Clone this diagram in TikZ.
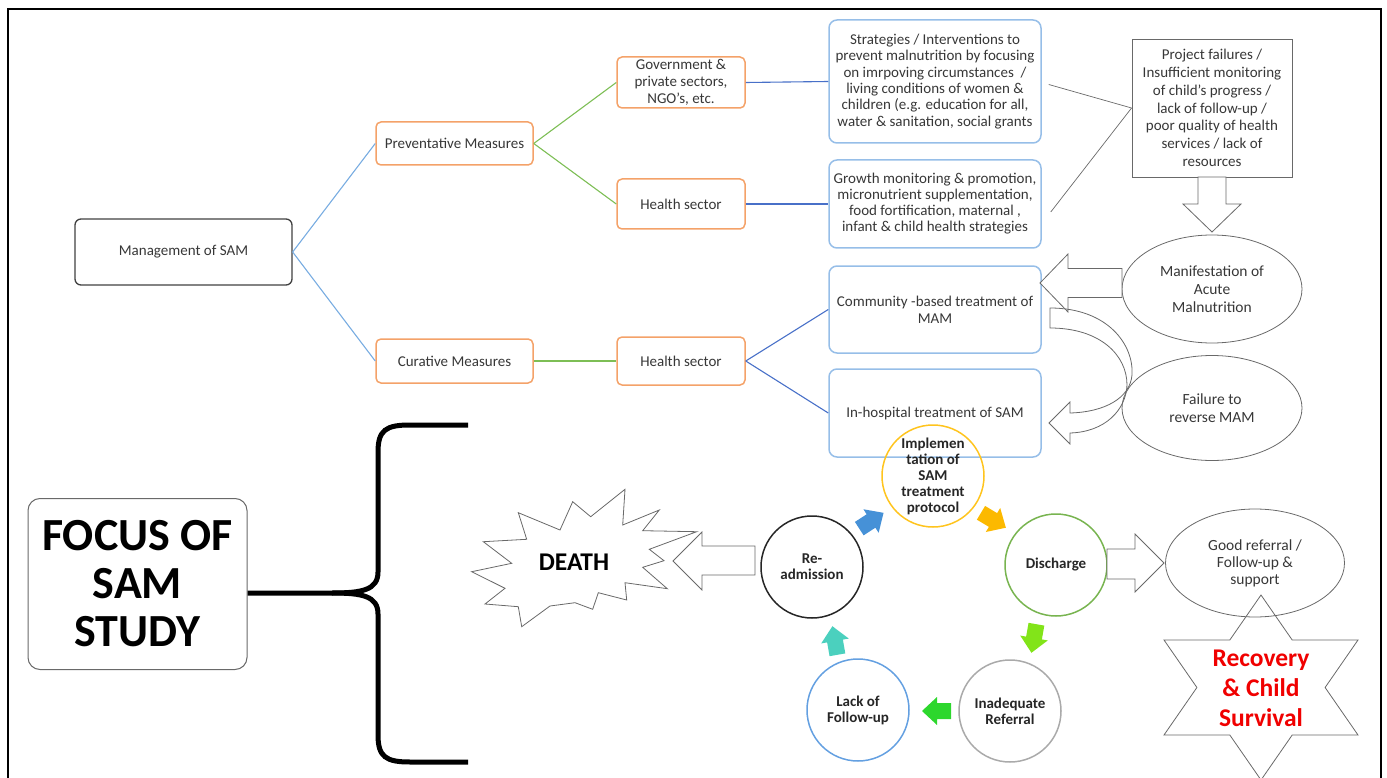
\documentclass[tikz,border=0pt]{standalone}
\usepackage{fontspec}
\setmainfont{Carlito}
\usetikzlibrary{calc,shapes.geometric}

\definecolor{boxorange}{RGB}{244,162,105}
\definecolor{boxblue}{RGB}{150,190,232}
\definecolor{linkblue}{RGB}{120,172,225}
\definecolor{linkdblue}{RGB}{72,112,200}
\definecolor{linkgreen}{RGB}{125,190,85}
\definecolor{txtgrey}{RGB}{55,55,55}
\definecolor{outl}{RGB}{105,105,105}
\definecolor{cyellow}{RGB}{255,196,30}
\definecolor{cgreen}{RGB}{120,180,80}
\definecolor{cgrey}{RGB}{170,170,170}
\definecolor{cblue}{RGB}{100,160,225}
\definecolor{arblue}{RGB}{70,145,215}
\definecolor{aryellow}{RGB}{252,185,0}
\definecolor{arlime}{RGB}{130,228,25}
\definecolor{argreen}{RGB}{45,215,45}
\definecolor{arteal}{RGB}{75,208,190}
\definecolor{recred}{RGB}{240,0,0}

\begin{document}
\begin{tikzpicture}[x=1pt,y=-1pt,
  font=\fontsize{15}{16.3}\selectfont, text=txtgrey,
  mgmtbox/.style={draw=black!75, line width=1.3pt, rounded corners=6pt,
    minimum width=217pt, minimum height=66pt, align=center},
  obox/.style={draw=boxorange, line width=1.5pt, rounded corners=5pt,
    minimum width=128pt, align=center, inner sep=1pt},
  bbox/.style={draw=boxblue, line width=1.5pt, rounded corners=8pt,
    minimum width=212pt, align=center, inner sep=1pt},
  lnk/.style={line width=1.1pt},
  harrow/.style={draw=outl, line width=0.8pt, fill=white},
  oval/.style={draw=outl, line width=0.8pt, ellipse, inner sep=-4pt,
    minimum width=180pt, align=center, font=\fontsize{15.5}{18}\selectfont},
  circ/.style={circle, line width=1.5pt, minimum size=102pt, inner sep=-8pt,
    align=center, text=black!85, font=\bfseries\fontsize{15}{16}\selectfont},
  cycarrow/.pic={\fill (-14,-8) -- (0,-8) -- (0,-14) -- (15,0) -- (0,14)
    -- (0,8) -- (-14,8) -- cycle;}
]
\useasboundingbox (0,0) rectangle (1387,778);

% outer frame
\draw[line width=2.5pt] (8,778) -- (8,9) -- (1381,9) -- (1381,778);

% ---------- management tree ----------
\node[mgmtbox] (mgmt) at (183.5,252) {Management of SAM};
\node[obox, minimum width=157pt, minimum height=43pt] (prev) at (454.5,143.5) {Preventative Measures};
\node[obox, minimum width=157pt, minimum height=44pt] (cur) at (454.5,361) {Curative Measures};
\node[obox, minimum height=51pt, font=\fontsize{15}{16.7}\selectfont] (gov) at (681,82.5) {Government \&\\private sectors,\\NGO's, etc.};
\node[obox, minimum height=50pt] (hs1) at (681,204) {Health sector};
\node[obox, minimum height=48pt] (hs2) at (681,361) {Health sector};

\node[bbox, minimum height=123pt] (strat) at (935,81.5)
  {Strategies / Interventions to\\prevent malnutrition by focusing\\on imrpoving circumstances~ /\\living conditions of women \&\\children (e.g. education for all,\\water \& sanitation, social grants};
\node[bbox, minimum height=88pt, font=\fontsize{15}{16}\selectfont] (growth) at (935,204)
  {Growth monitoring \& promotion,\\micronutrient supplementation,\\food fortification, maternal ,\\infant \& child health strategies};
\node[bbox, minimum height=87pt, font=\fontsize{15}{17}\selectfont] (comm) at (935,309.5)
  {Community -based treatment of\\MAM};
\node[bbox, minimum height=88pt] (hosp) at (935,413) {In-hospital treatment of SAM};

\draw[lnk, linkblue] (mgmt.east) -- (prev.west);
\draw[lnk, linkblue] (mgmt.east) -- (cur.west);
\draw[lnk, linkgreen] (prev.east) -- (gov.west);
\draw[lnk, linkgreen] (prev.east) -- (hs1.west);
\draw[lnk, linkgreen] (cur.east) -- (hs2.west);
\draw[lnk, linkdblue] (gov.east) -- (strat.west);
\draw[lnk, linkdblue] (hs1.east) -- (growth.west);
\draw[lnk, linkdblue] (hs2.east) -- (comm.west);
\draw[lnk, linkdblue] (hs2.east) -- (hosp.west);

% ---------- causes of acute malnutrition ----------
\node[draw=outl, line width=0.9pt, minimum width=160pt, minimum height=138pt,
  align=center, inner sep=0pt, font=\fontsize{15}{17.8}\selectfont] (proj) at (1212,108)
  {Project failures /\\Insufficient monitoring\\of child's progress /\\lack of follow-up /\\poor quality of health\\services / lack of\\resources};
\draw[outl, line width=0.7pt] ($(strat.east)+(7,3)$) -- (proj.west);
\draw[outl, line width=0.7pt] ($(growth.east)+(9,8)$) -- (proj.west);

\node[oval, minimum height=108pt] (manif) at (1212,289) {Manifestation of\\Acute\\Malnutrition};
\node[oval, minimum height=105pt] (fail) at (1212,408) {Failure to\\reverse MAM};

% block arrow: project box down to the ellipse
\draw[harrow] (1198,177) -- (1198,204) -- (1183,204) -- (1212,232) -- (1241,204)
  -- (1226,204) -- (1226,177) -- cycle;
% block arrow: ellipse to community treatment
\draw[harrow] (1122,268.5) -- (1068,268.5) -- (1068,254) -- (1040,283) -- (1068,312)
  -- (1068,297.5) -- (1122,297.5) -- cycle;
% curved block arrow: community treatment to hospital treatment
\draw[draw=outl, line width=0.8pt] (1050,308) .. controls (1108,308) and (1134,345) .. (1132,375)
  .. controls (1130,398) and (1105,412) .. (1070,413) -- (1070,402) -- (1049,423)
  -- (1070,444) -- (1070,433) .. controls (1105,432) and (1126,410) .. (1127,385)
  .. controls (1127,355) and (1100,328) .. (1050,328) -- cycle;

% ---------- focus of the study ----------
\node[draw=outl, line width=1pt, rounded corners=12pt, minimum width=219pt,
  minimum height=171pt, align=center, text=black, inner sep=0pt,
  font=\bfseries\fontsize{46}{48}\selectfont] (focus) at (137.5,584) {FOCUS OF\\SAM\\STUDY};
\coordinate (cusp) at (332,593);
\draw[line width=5pt] (focus.east |- cusp) -- (cusp)
  .. controls (362,593) and (378,590) .. (378,572) -- (378,452)
  .. controls (378,430) and (386,425) .. (410,425) -- (468,425);
\draw[line width=5pt] (cusp) .. controls (362,593) and (378,596) .. (378,614) -- (378,735)
  .. controls (378,757) and (386,762) .. (410,762) -- (468,762);

% ---------- treatment cycle ----------
\node[circ, draw=cyellow] (impl) at (933,476) {Implemen\\tation of\\SAM\\treatment\\protocol};
\node[circ, draw=cgreen] (dis) at (1056,565) {Discharge};
\node[circ, draw=cgrey] (inad) at (1010,711) {Inadequate\\Referral};
\node[circ, draw=cblue] (lack) at (858,710) {Lack of\\Follow-up};
\node[circ, draw=black!85] (readm) at (812,567) {Re-\\admission};

\pic[rotate=33, fill=arblue] at (871,521) {cycarrow};
\pic[rotate=-31, fill=aryellow] at (993,520) {cycarrow};
\pic[rotate=-100, fill=arlime] at (1034,638) {cycarrow};
\pic[rotate=180, fill=argreen] at (937,711) {cycarrow};
\pic[rotate=100, fill=arteal] at (835,641) {cycarrow};

% death burst
\draw[draw=outl, line width=0.8pt, fill=white]
  (471.7,571.7) -- (511.7,563.3) -- (483.3,541.7) -- (526.7,539.3) -- (518.3,512.7)
  -- (560,530) -- (572.7,501.7) -- (590.7,516.7) -- (625,489.3) -- (622.7,525)
  -- (659.3,510) -- (642.7,530.7) -- (696.7,531.7) -- (649.3,549.3) -- (664,560.7)
  -- (642.7,567.3) -- (667.3,588.7) -- (625,582.7) -- (626.7,600) -- (598.3,592.7)
  -- (592.7,609.3) -- (575,602.7) -- (550,606) -- (521.7,626.7) -- (518.3,606.7)
  -- (485,604) -- (505,588.3) -- cycle;
\node[text=black, font=\bfseries\fontsize{25.5}{27}\selectfont] (death) at (574,562) {DEATH};
\draw[harrow] (755,546) -- (702,546) -- (702,532) -- (673,561) -- (702,590)
  -- (702,575) -- (755,575) -- cycle;

% discharge leads to good referral
\draw[harrow] (1107,549) -- (1135,549) -- (1135,534) -- (1164,563) -- (1135,592)
  -- (1135,579) -- (1107,579) -- cycle;
\node[oval, minimum width=179pt, minimum height=108pt, font=\fontsize{15.5}{17}\selectfont]
  (good) at (1255,563) {Good referral /\\Follow-up \&\\support};

% six-pointed star
\draw[draw=outl, line width=0.8pt]
  (1261,595) -- (1292.2,640) -- (1358,640) -- (1325.1,687.5) -- (1358,735)
  -- (1292.2,735) -- (1261,780) -- (1229.8,735) -- (1164,735) -- (1196.9,687.5)
  -- (1164,640) -- (1229.8,640) -- cycle;
\node[align=center, text=recred, font=\bfseries\fontsize{25.5}{30}\selectfont]
  (recov) at (1261,688) {Recovery\\\& Child\\Survival};
\end{tikzpicture}
\end{document}
